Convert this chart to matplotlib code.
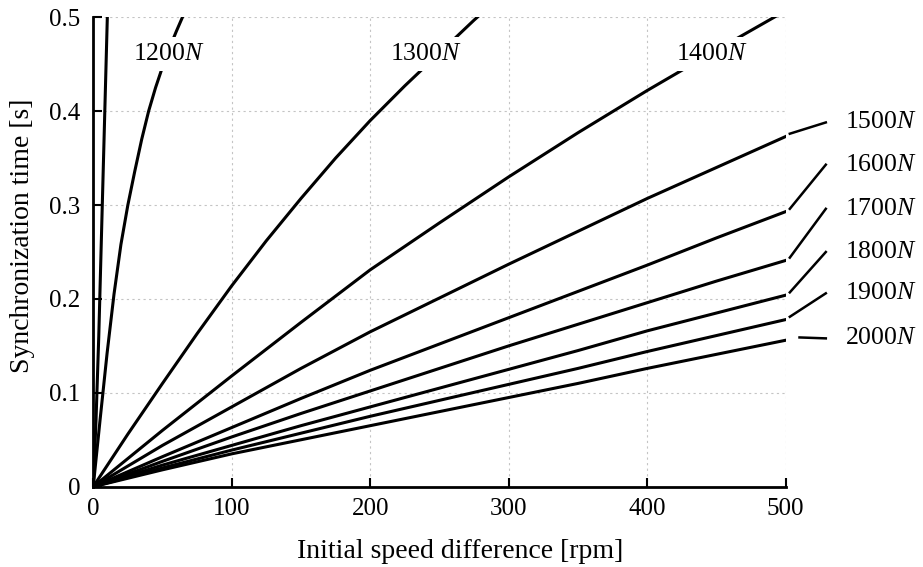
import matplotlib
matplotlib.use("Agg")
import matplotlib.pyplot as plt

plt.rcParams['font.family'] = 'Liberation Serif'
plt.rcParams['mathtext.fontset'] = 'custom'
plt.rcParams['mathtext.rm'] = 'Liberation Serif'
plt.rcParams['mathtext.it'] = 'Liberation Serif:italic'

# synchronization time [s] vs initial speed difference [rpm], one curve per axial force
speed_1100 = [0, 2, 4, 6, 8, 10, 12]
time_1100 = [0, 0.07, 0.16, 0.27, 0.38, 0.49, 0.60]

speed_1200 = [0, 5, 10, 15, 20, 25, 30, 35, 40, 45, 50, 55, 60, 65, 70]
time_1200 = [0, 0.072, 0.142, 0.205, 0.258, 0.300, 0.336, 0.370, 0.400,
             0.425, 0.447, 0.467, 0.485, 0.502, 0.518]

speed_1300 = [0, 25, 50, 75, 100, 125, 150, 175, 200, 225, 250, 275, 300]
time_1300 = [0, 0.056, 0.110, 0.163, 0.214, 0.262, 0.307, 0.350, 0.390,
             0.427, 0.462, 0.497, 0.530]

speed = [0, 50, 100, 150, 200, 250, 300, 350, 400, 450, 500]
time_1400 = [0, 0.060, 0.118, 0.175, 0.231, 0.281, 0.330, 0.377, 0.422, 0.465, 0.507]
time_1500 = [0, 0.044, 0.085, 0.126, 0.165, 0.201, 0.237, 0.272, 0.307, 0.340, 0.373]
time_1600 = [0, 0.032, 0.063, 0.094, 0.124, 0.152, 0.180, 0.208, 0.236, 0.265, 0.293]
time_1700 = [0, 0.027, 0.053, 0.078, 0.102, 0.126, 0.150, 0.173, 0.196, 0.219, 0.241]
time_1800 = [0, 0.023, 0.044, 0.065, 0.085, 0.105, 0.125, 0.145, 0.166, 0.185, 0.204]
time_1900 = [0, 0.020, 0.039, 0.057, 0.075, 0.092, 0.109, 0.126, 0.144, 0.161, 0.178]
time_2000 = [0, 0.018, 0.035, 0.050, 0.065, 0.080, 0.095, 0.110, 0.126, 0.141, 0.156]

# labels written on the curves near the top
top_labels = ['1200', '1300', '1400']
top_label_x = [55, 240, 447]
top_label_y = 0.461

# labels to the right of the plot, joined to the curve ends by short leaders
side_labels = ['1500', '1600', '1700', '1800', '1900', '2000']
side_label_y = [0.388, 0.343, 0.296, 0.250, 0.206, 0.158]
lead_x0 = [503, 503, 503, 503, 503, 510]

xticks = [0, 100, 200, 300, 400, 500]
yticks = [0, 0.1, 0.2, 0.3, 0.4, 0.5]
ytick_labels = ['0', '0.1', '0.2', '0.3', '0.4', '0.5']

fig = plt.figure(figsize=(9.23, 5.67), dpi=100)
ax = fig.add_axes([0.101, 0.1416, 0.7502, 0.8279])

lw = 2.2
ax.plot(speed_1100, time_1100, color='black', lw=lw)
ax.plot(speed_1200, time_1200, color='black', lw=lw)
ax.plot(speed_1300, time_1300, color='black', lw=lw)
side_curves = [time_1500, time_1600, time_1700, time_1800, time_1900, time_2000]
ax.plot(speed, time_1400, color='black', lw=lw)
for t in side_curves:
    ax.plot(speed, t, color='black', lw=lw)

ax.set_xlim(0, 500)
ax.set_ylim(0, 0.5)
ax.set_xticks(xticks)
ax.set_yticks(yticks)
ax.set_yticklabels(ytick_labels)
ax.tick_params(direction='in', length=6.5, width=1.5, labelsize=18, pad=8)
ax.tick_params(axis='y', pad=9)

for s in ['top', 'right']:
    ax.spines[s].set_visible(False)
for s in ['left', 'bottom']:
    ax.spines[s].set_linewidth(2.0)

ax.grid(True, color='#c4c4c4', linestyle=(0, (2, 3)), linewidth=0.8)
ax.set_axisbelow(True)

for lab, x in zip(top_labels, top_label_x):
    ax.text(x, top_label_y, lab + r'$N$', fontsize=18.5, ha='center', va='center',
            bbox=dict(facecolor='white', edgecolor='none', pad=4), zorder=5)

for lab, t, y, x0 in zip(side_labels, side_curves, side_label_y, lead_x0):
    ax.plot([x0, 529], [t[-1] + 0.003, y], color='black', lw=1.8, clip_on=False)
    ax.text(543, y, lab + r'$N$', fontsize=18.5, ha='left', va='center', clip_on=False)

fig.text(460 / 923, 1 - 551 / 567, 'Initial speed difference [rpm]', fontsize=20,
         ha='center', va='center')
fig.text(23 / 923, 1 - 236 / 567, 'Synchronization time [s]', fontsize=20,
         ha='center', va='center', rotation=90)

fig.savefig('out.png', dpi=100)
